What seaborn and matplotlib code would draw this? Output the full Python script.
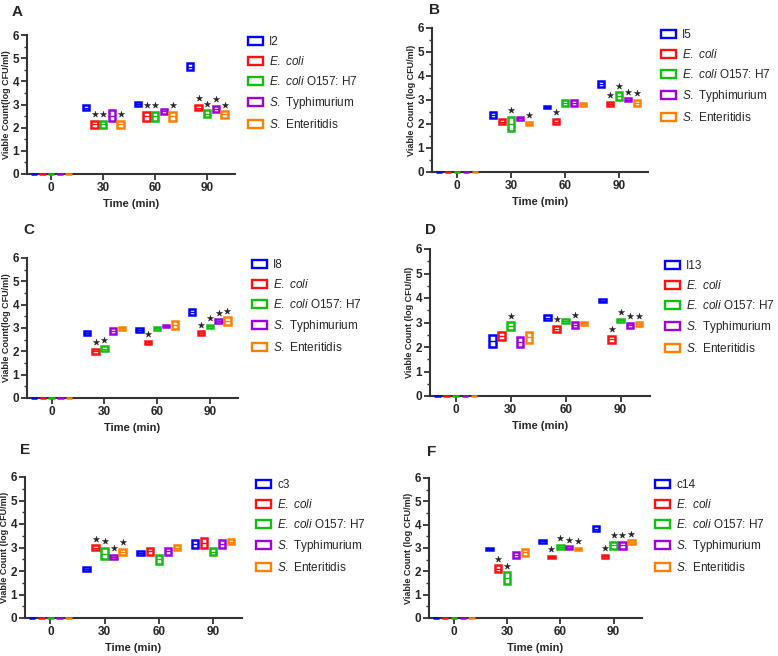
import numpy as np
import pandas as pd
import matplotlib
matplotlib.use("Agg")
import matplotlib.pyplot as plt
import seaborn as sns
from matplotlib.patches import Patch
from matplotlib.ticker import MultipleLocator

TIMES = [0, 30, 60, 90]
OFFSETS = [-10, -5, 0, 5, 10]
COLORS = ["#0000ff", "#ff1010", "#10c010", "#a000e0", "#ff8000"]
HOSTS = [r"$\mathit{E.\ coli}$", r"$\mathit{E.\ coli}$ O157: H7",
         r"$\mathit{S.}$ Typhimurium", r"$\mathit{S.}$ Enteritidis"]

PANELS = ["A", "B", "C", "D", "E", "F"]
PHAGES = ["I2", "I5", "I8", "I13", "c3", "c14"]
YLABELS = ["Viable Count(log CFU/ml)", "Viable Count (log CFU/ml)",
           "Viable Count(log CFU/ml)", "Viable Count (log CFU/ml)",
           "Viable Count (log CFU/ml)", "Viable Count (log CFU/ml)"]

# low / high of each floating bar: rows = phage, E.coli, O157, Typhimurium, Enteritidis
A_LO = [[0, 2.75, 2.95, 4.47], [0, 1.99, 2.29, 2.75], [0, 1.99, 2.29, 2.45], [0, 2.30, 2.60, 2.69], [0, 1.99, 2.29, 2.43]]
A_HI = [[0, 2.99, 3.11, 4.78], [0, 2.29, 2.69, 2.99], [0, 2.29, 2.69, 2.75], [0, 2.75, 2.81, 2.95], [0, 2.29, 2.69, 2.71]]
A_SIG = [[0, 0, 0, 0], [0, 1, 1, 1], [0, 1, 1, 1], [0, 0, 0, 1], [0, 1, 1, 1]]

B_LO = [[0, 2.27, 2.66, 3.55], [0, 1.99, 1.99, 2.77], [0, 1.69, 2.77, 3.02], [0, 2.17, 2.77, 2.96], [0, 1.94, 2.77, 2.77]]
B_HI = [[0, 2.48, 2.77, 3.80], [0, 2.19, 2.20, 2.92], [0, 2.29, 3.02, 3.32], [0, 2.29, 3.02, 3.07], [0, 2.09, 2.87, 3.02]]
B_SIG = [[0, 0, 0, 0], [0, 0, 1, 1], [0, 1, 0, 1], [0, 0, 0, 1], [0, 1, 0, 1]]

C_LO = [[0, 2.71, 2.81, 3.56], [0, 1.90, 2.31, 2.71], [0, 2.01, 2.93, 3.01], [0, 2.76, 3.03, 3.21], [0, 2.93, 2.97, 3.11]]
C_HI = [[0, 2.86, 3.01, 3.83], [0, 2.11, 2.46, 2.87], [0, 2.21, 3.03, 3.13], [0, 3.01, 3.13, 3.37], [0, 3.03, 3.31, 3.46]]
C_SIG = [[0, 0, 0, 0], [0, 1, 1, 1], [0, 1, 0, 1], [0, 0, 0, 1], [0, 0, 0, 1]]

D_LO = [[0, 1.99, 3.10, 3.82], [0, 2.28, 2.62, 2.18], [0, 2.71, 3.00, 3.04], [0, 2.00, 2.77, 2.76], [0, 2.18, 2.91, 2.86]]
D_HI = [[0, 2.50, 3.29, 3.96], [0, 2.61, 2.85, 2.44], [0, 3.00, 3.14, 3.14], [0, 2.39, 3.02, 3.00], [0, 2.62, 3.04, 3.00]]
D_SIG = [[0, 0, 0, 0], [0, 0, 1, 1], [0, 1, 0, 1], [0, 0, 1, 1], [0, 0, 0, 1]]

E_LO = [[0, 1.99, 2.70, 2.98], [0, 2.88, 2.68, 2.99], [0, 2.49, 2.30, 2.66], [0, 2.50, 2.68, 2.98], [0, 2.68, 2.88, 3.14]]
E_HI = [[0, 2.19, 2.85, 3.31], [0, 3.09, 2.99, 3.39], [0, 2.98, 2.68, 2.98], [0, 2.70, 2.99, 3.31], [0, 2.95, 3.09, 3.35]]
E_SIG = [[0, 0, 0, 0], [0, 1, 0, 0], [0, 1, 0, 0], [0, 1, 0, 0], [0, 1, 0, 0]]

F_LO = [[0, 2.91, 3.23, 3.71], [0, 1.97, 2.57, 2.57], [0, 1.47, 2.96, 2.97], [0, 2.57, 2.97, 2.97], [0, 2.67, 2.91, 3.19]]
F_HI = [[0, 3.01, 3.33, 3.93], [0, 2.27, 2.67, 2.71], [0, 1.97, 3.13, 3.27], [0, 2.83, 3.07, 3.27], [0, 2.96, 3.01, 3.34]]
F_SIG = [[0, 0, 0, 0], [0, 1, 1, 1], [0, 1, 1, 1], [0, 0, 1, 1], [0, 0, 1, 1]]

LOWS = [A_LO, B_LO, C_LO, D_LO, E_LO, F_LO]
HIGHS = [A_HI, B_HI, C_HI, D_HI, E_HI, F_HI]
SIGS = [A_SIG, B_SIG, C_SIG, D_SIG, E_SIG, F_SIG]

sns.set_style("ticks")
plt.rcParams["font.family"] = ["Liberation Sans", "DejaVu Sans"]
plt.rcParams["mathtext.fontset"] = "custom"
plt.rcParams["mathtext.rm"] = "Liberation Sans"
plt.rcParams["mathtext.it"] = "Liberation Sans:italic"

W, H = 778, 656
fig = plt.figure(figsize=(W / 100, H / 100), dpi=100)

# axes boxes in pixels: left, right, top(y=6), bottom(y=0)
AX_PX = [(27, 235, 35, 174), (432, 648, 28, 172),
         (27, 238, 258, 398), (430, 650, 249, 396),
         (25, 242, 477, 618), (429, 642, 478, 618)]
LEG_PX = [(248, 36), (661, 29), (252, 259), (665, 260), (256, 479), (655, 479)]
LET_PX = [(12, 12), (429, 10), (23, 230), (425, 230), (20, 450), (427, 452)]

BAR_W = 3.6
for p in range(6):
    l, r, t, b = AX_PX[p]
    ax = fig.add_axes([l / W, 1 - b / H, (r - l) / W, (b - t) / H])
    rows = []
    for s in range(5):
        for k, tm in enumerate(TIMES):
            rows.append({"series": s, "x": tm + OFFSETS[s],
                         "lo": LOWS[p][s][k], "hi": HIGHS[p][s][k], "sig": SIGS[p][s][k]})
    df = pd.DataFrame(rows)
    for s in range(5):
        d = df[df.series == s]
        ax.bar(d.x, d.hi - d.lo, bottom=d.lo, width=BAR_W, facecolor="white",
               edgecolor=COLORS[s], linewidth=1.8, clip_on=False, zorder=3)
        mid = (d.lo + d.hi) / 2
        ax.hlines(mid, d.x - BAR_W / 2, d.x + BAR_W / 2, color=COLORS[s], lw=1.0, zorder=4)
    stars = df[df.sig == 1].assign(ys=lambda v: v.hi + 0.28)
    sns.scatterplot(data=stars, x="x", y="ys", marker="*", color="#222222",
                    s=22, edgecolor="#222222", linewidth=0.3, legend=False, ax=ax, zorder=5)

    ax.set_xlim(-14, 106)
    ax.set_ylim(0, 6)
    ax.set_xticks(TIMES)
    ax.yaxis.set_major_locator(MultipleLocator(1))
    ax.yaxis.set_minor_locator(MultipleLocator(0.5))
    for lab in ax.get_xticklabels() + ax.get_yticklabels():
        lab.set_fontweight("bold")
        lab.set_fontsize(8.5)
    ax.tick_params(which="major", length=4, width=1.3, color="#333333", pad=1.5)
    ax.tick_params(which="minor", length=2, width=1.0, color="#333333")
    sns.despine(ax=ax)
    for sp in ["left", "bottom"]:
        ax.spines[sp].set_linewidth(1.5)
        ax.spines[sp].set_color("#333333")
    ax.set_xlabel("Time (min)", fontsize=8, fontweight="bold", labelpad=4)
    ax.set_ylabel(YLABELS[p], fontsize=6.5, fontweight="bold", labelpad=1)

    handles = [Patch(facecolor="white", edgecolor=c, linewidth=1.7) for c in COLORS]
    labels = [PHAGES[p]] + HOSTS
    lx, ly = LEG_PX[p]
    ax.legend(handles, labels, loc="upper left", bbox_to_anchor=(lx / W, 1 - ly / H),
              bbox_transform=fig.transFigure, frameon=False, fontsize=8.5,
              handlelength=1.3, handleheight=0.6, handletextpad=0.5,
              labelspacing=0.6, borderpad=0, borderaxespad=0)
    tx, ty = LET_PX[p]
    fig.text(tx / W, 1 - ty / H, PANELS[p], fontsize=11, fontweight="bold",
             ha="left", va="center")

fig.savefig("out.png", dpi=100)
